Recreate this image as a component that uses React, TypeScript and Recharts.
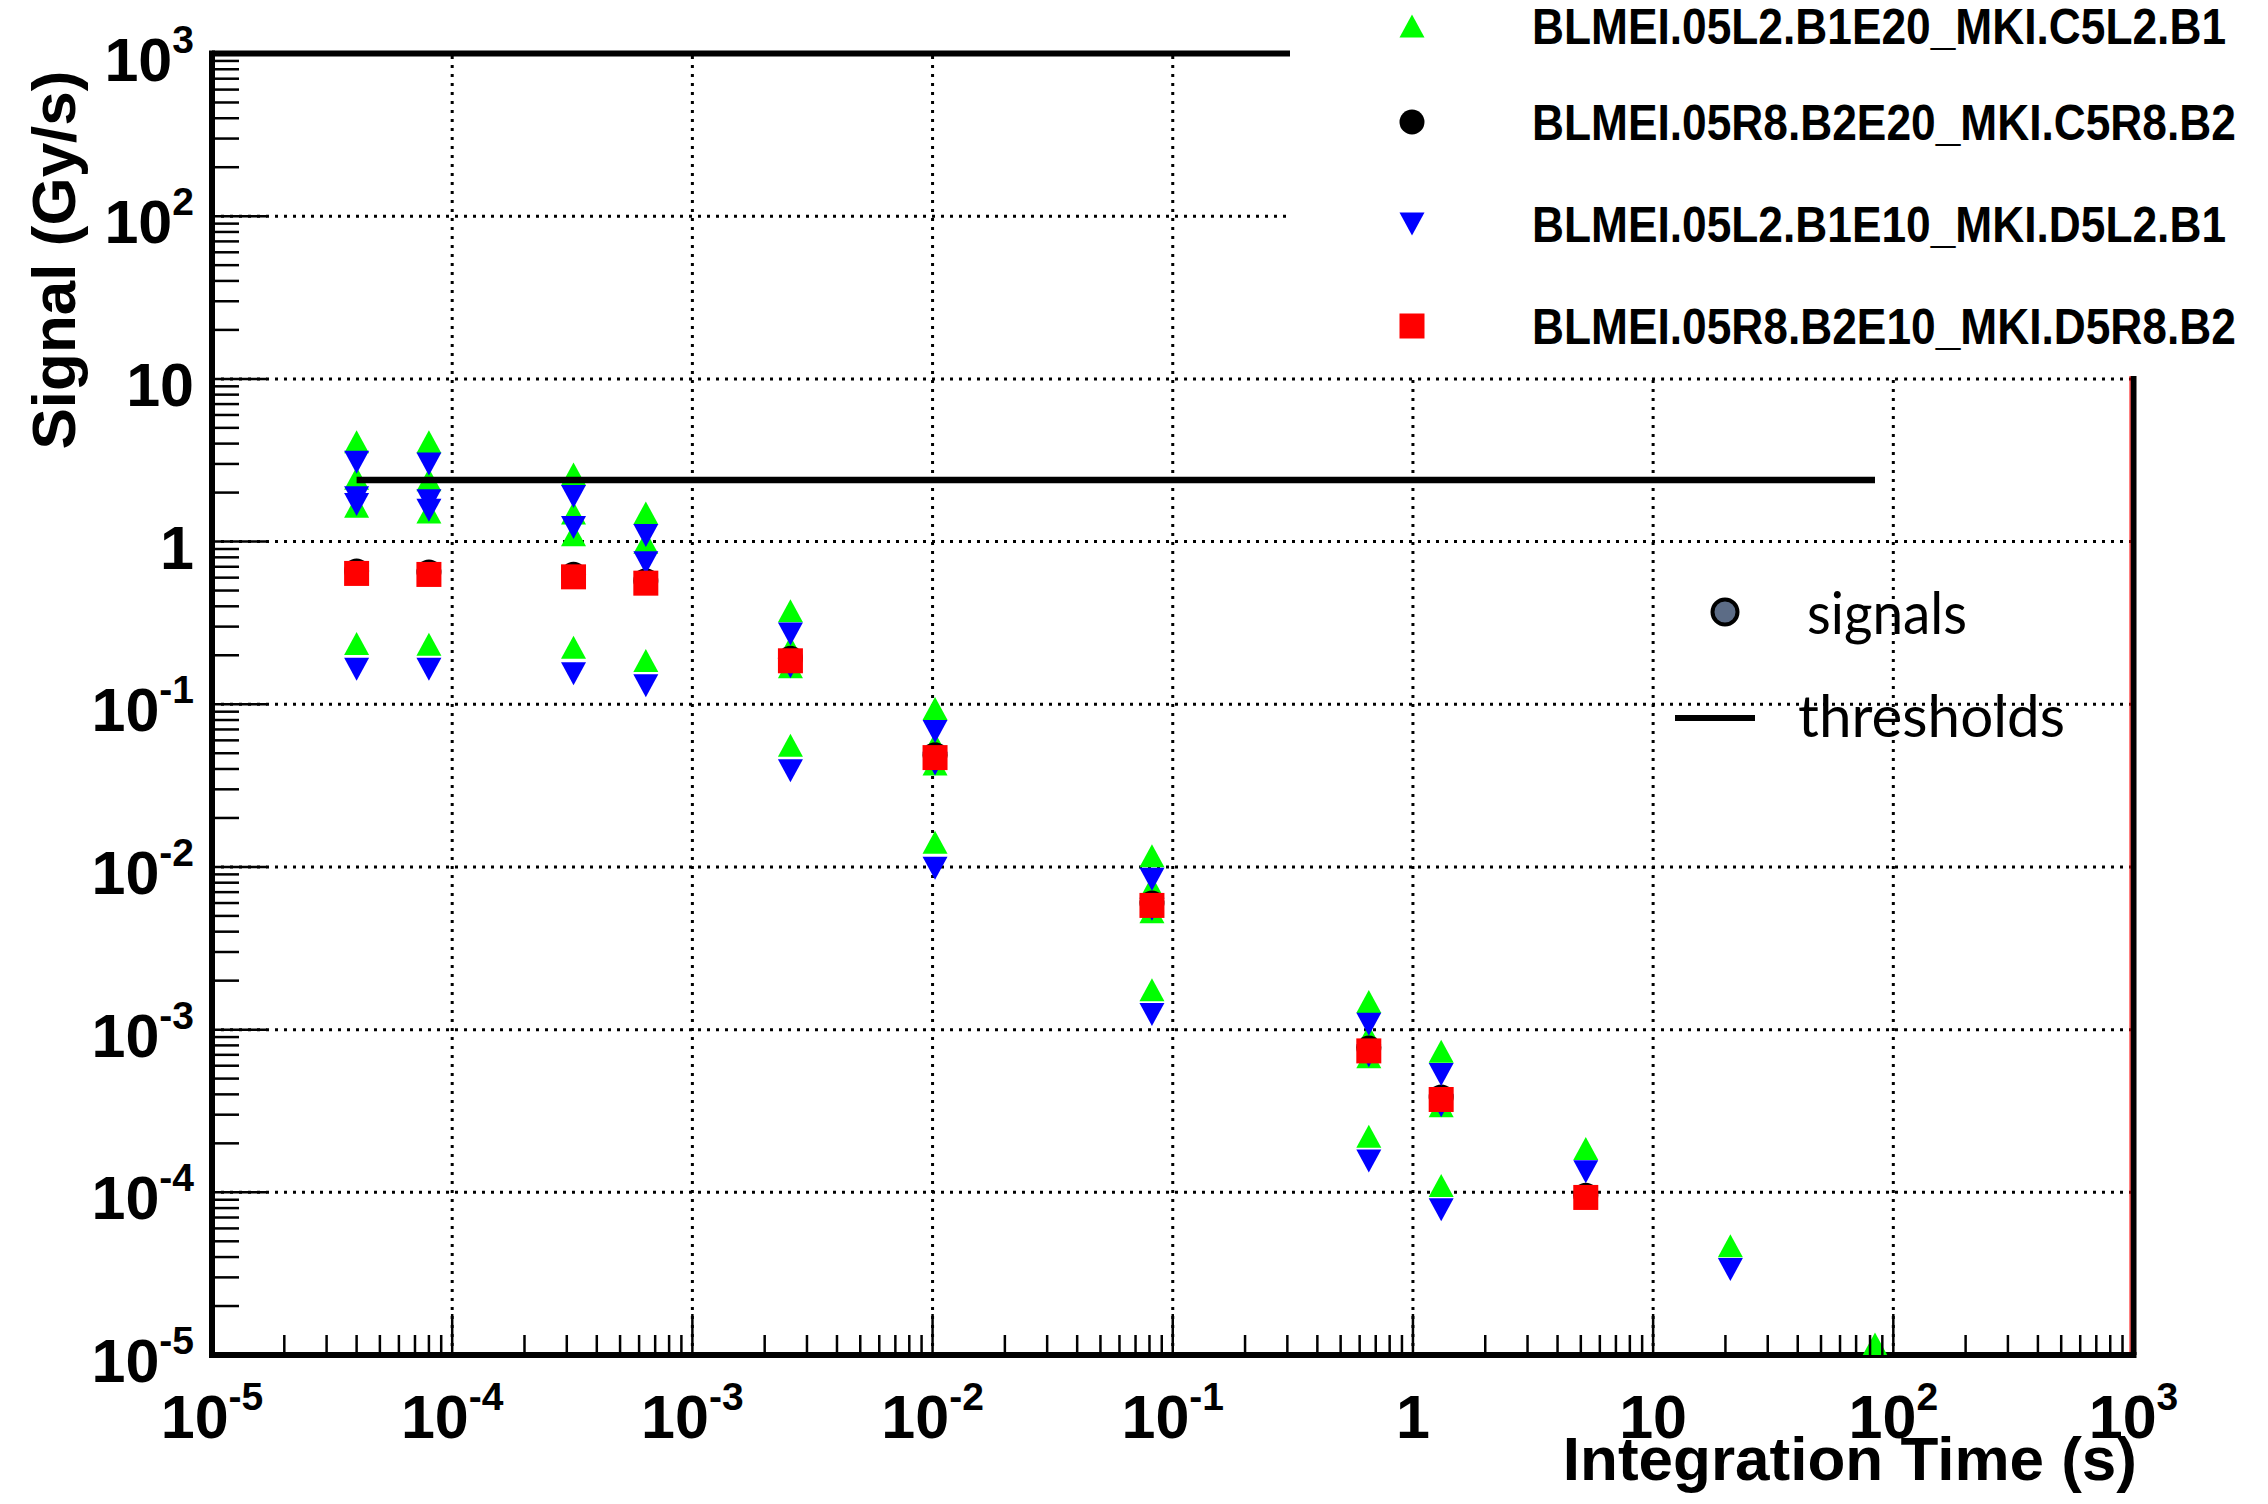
import { ReferenceLine, Scatter, ScatterChart, XAxis, YAxis } from "recharts";

// integration times of the BLM running sums (s)
const TIMES = [4e-5, 8e-5, 3.2e-4, 6.4e-4, 2.56e-3, 1.024e-2, 8.192e-2, 0.655, 1.311, 5.243, 20.97, 83.89];

// signals (Gy/s), one list per integration time
const GREEN_SIGNALS = [
  [4.1, 2.45, 1.65, 0.236],
  [4.1, 2.4, 1.52, 0.234],
  [2.6, 1.5, 1.1, 0.224],
  [1.5, 0.99, 0.186],
  [0.375, 0.223, 0.17, 0.056],
  [0.094, 0.057, 0.043, 0.0142],
  [0.0117, 0.0075, 0.0053, 0.00176],
  [0.00149, 0.00091, 0.00068, 0.000221],
  [0.000736, 0.00034, 0.00011],
  [0.000186],
  [4.7e-5],
  [1.17e-5],
];
const BLACK_SIGNALS = [
  [0.66], [0.65], [0.63], [0.575], [0.192], [0.049], [0.006], [0.00077], [0.000385], [9.6e-5], [], [],
];
const BLUE_SIGNALS = [
  [3.07, 1.86, 1.69, 0.164],
  [3.0, 1.78, 1.56, 0.164],
  [1.89, 1.22, 0.154],
  [1.09, 0.74, 0.13],
  [0.27, 0.17, 0.039],
  [0.068, 0.043, 0.0098],
  [0.0084, 0.0055, 0.00124],
  [0.00108, 0.00069, 0.000156],
  [0.00053, 0.00034, 7.8e-5],
  [0.000134],
  [3.35e-5],
  [],
];
const RED_SIGNALS = [
  [0.637], [0.628], [0.607], [0.555], [0.185], [0.047], [0.0058], [0.00074], [0.000372], [9.3e-5], [], [],
];

const THRESHOLD = 2.39;
const THRESHOLD_FROM = 4e-5;
const THRESHOLD_TO = 83.89;

const LEGEND_LABELS = [
  "BLMEI.05L2.B1E20_MKI.C5L2.B1",
  "BLMEI.05R8.B2E20_MKI.C5R8.B2",
  "BLMEI.05L2.B1E10_MKI.D5L2.B1",
  "BLMEI.05R8.B2E10_MKI.D5R8.B2",
];

const EXPONENTS = [-5, -4, -3, -2, -1, 0, 1, 2, 3];
const MAJOR_TICKS = EXPONENTS.map((e) => Number(`1e${e}`));
const MINOR_TICKS = EXPONENTS.slice(0, -1).flatMap((e) =>
  [2, 3, 4, 5, 6, 7, 8, 9].map((m) => Number(`${m}e${e}`))
);
const ALL_TICKS = [...MAJOR_TICKS, ...MINOR_TICKS].sort((a, b) => a - b);
const GRID_VALUES = MAJOR_TICKS.slice(1, -1);

const FONT = '"Liberation Sans", Arial, Helvetica, sans-serif';

function toPoints(lists: number[][]) {
  return lists.flatMap((vals, i) => vals.map((y) => ({ x: TIMES[i], y })));
}

const greenPts = toPoints(GREEN_SIGNALS);
const blackPts = toPoints(BLACK_SIGNALS);
const bluePts = toPoints(BLUE_SIGNALS);
const redPts = toPoints(RED_SIGNALS);
const thresholdPts = [
  { x: THRESHOLD_FROM, y: THRESHOLD },
  { x: THRESHOLD_TO, y: THRESHOLD },
];

function expOf(v: number) {
  return Math.round(Math.log10(v));
}

function isMajor(v: number) {
  return Math.abs(v / Number(`1e${expOf(v)}`) - 1) < 1e-6;
}

function DecadeLabel({ x, y, exp, anchor }: { x: number; y: number; exp: number; anchor: "middle" | "end" }) {
  return (
    <text x={x} y={y} textAnchor={anchor} fontFamily={FONT} fontWeight="bold" fontSize={61} fill="#000">
      {exp === 0 ? "1" : "10"}
      {exp !== 0 && exp !== 1 && (
        <tspan dy={-28} fontSize={39}>
          {String(exp)}
        </tspan>
      )}
    </text>
  );
}

function XTick(props: any) {
  const { x, y, payload } = props;
  const v = payload.value;
  const major = isMajor(v);
  return (
    <g>
      <line x1={x} x2={x} y1={y} y2={y - (major ? 41 : 20)} stroke="#000" strokeWidth={2.5} />
      {major && <DecadeLabel x={x} y={y + 83} exp={expOf(v)} anchor="middle" />}
    </g>
  );
}

function YTick(props: any) {
  const { x, y, payload } = props;
  const v = payload.value;
  const major = isMajor(v);
  return (
    <g>
      <line x1={x} x2={x + (major ? 55 : 27)} y1={y} y2={y} stroke="#000" strokeWidth={2.5} />
      {major && <DecadeLabel x={x - 18} y={y + 27} exp={expOf(v)} anchor="end" />}
    </g>
  );
}

function UpTri({ cx, cy }: any) {
  return <polygon points={`${cx},${cy - 11.5} ${cx - 12.5},${cy + 11.5} ${cx + 12.5},${cy + 11.5}`} fill="#00ff00" />;
}
function DownTri({ cx, cy }: any) {
  return <polygon points={`${cx - 12.5},${cy - 11.5} ${cx + 12.5},${cy - 11.5} ${cx},${cy + 11.5}`} fill="#0000ff" />;
}
function Dot({ cx, cy }: any) {
  return <circle cx={cx} cy={cy} r={12.5} fill="#000" />;
}
function Square({ cx, cy }: any) {
  return <rect x={cx - 12.5} y={cy - 12.5} width={25} height={25} fill="#ff0000" />;
}
function NoShape() {
  return <g />;
}

const LEGEND_MARKERS = [UpTri, Dot, DownTri, Square];
const LEGEND_ROWS = [26, 122, 224, 326];

export default function App() {
  return (
    <div style={{ position: "relative", width: 2268, height: 1504, margin: -8, overflow: "hidden", background: "#fff" }}>
      <ScatterChart width={2268} height={1504} margin={{ top: 53.5, right: 134.5, left: 202, bottom: 139 }}>
        {GRID_VALUES.map((v) => (
          <ReferenceLine key={`gx${v}`} x={v} stroke="#000" strokeWidth={3} strokeDasharray="3 6" />
        ))}
        {GRID_VALUES.map((v) => (
          <ReferenceLine key={`gy${v}`} y={v} stroke="#000" strokeWidth={3} strokeDasharray="3 6" />
        ))}
        <XAxis
          type="number"
          dataKey="x"
          scale="log"
          domain={[1e-5, 1e3]}
          allowDataOverflow
          ticks={ALL_TICKS}
          interval={0}
          height={10}
          tickSize={0}
          tickMargin={0}
          tickLine={false}
          axisLine={{ stroke: "#000", strokeWidth: 6, strokeLinecap: "square" }}
          tick={XTick}
        />
        <YAxis
          type="number"
          dataKey="y"
          scale="log"
          domain={[1e-5, 1e3]}
          allowDataOverflow
          ticks={ALL_TICKS}
          interval={0}
          width={10}
          tickSize={0}
          tickMargin={0}
          tickLine={false}
          axisLine={{ stroke: "#000", strokeWidth: 6, strokeLinecap: "square" }}
          tick={YTick}
        />
        <ReferenceLine y={1e3} stroke="#000" strokeWidth={6} ifOverflow="visible" />
        <ReferenceLine x={1e3} stroke="#000" strokeWidth={6} ifOverflow="visible" />
        <Scatter data={greenPts} shape={UpTri} isAnimationActive={false} />
        <Scatter data={blackPts} shape={Dot} isAnimationActive={false} />
        <Scatter data={bluePts} shape={DownTri} isAnimationActive={false} />
        <Scatter data={redPts} shape={Square} isAnimationActive={false} />
        <Scatter
          data={thresholdPts}
          shape={NoShape}
          line={{ stroke: "#000", strokeWidth: 6.5 }}
          isAnimationActive={false}
        />
      </ScatterChart>
      <svg width={2268} height={1504} style={{ position: "absolute", left: 0, top: 0, pointerEvents: "none" }}>
        <rect x={1290} y={0} width={978} height={376} fill="#fff" />
        <line x1={2130} x2={2130} y1={376} y2={1352} stroke="#ff0000" strokeWidth={1} />
        {LEGEND_LABELS.map((label, i) => {
          const Marker = LEGEND_MARKERS[i];
          return (
            <g key={label}>
              <Marker cx={1412} cy={LEGEND_ROWS[i]} />
              {/* condensed bold face like the original */}
              <text
                transform={`translate(1532, ${LEGEND_ROWS[i] + 18}) scale(0.886, 1)`}
                fontFamily={FONT}
                fontWeight="bold"
                fontSize={50}
                fill="#000"
              >
                {label}
              </text>
            </g>
          );
        })}
        <circle cx={1725} cy={612} r={12.5} fill="#5c6c86" stroke="#000" strokeWidth={4} />
        <text x={1807} y={634} fontFamily="Lato, 'Open Sans', sans-serif" fontSize={58} fill="#000" textLength={160} lengthAdjust="spacingAndGlyphs">
          signals
        </text>
        <line x1={1675} x2={1755} y1={718} y2={718} stroke="#000" strokeWidth={6} />
        <text x={1798} y={737} fontFamily="Lato, 'Open Sans', sans-serif" fontSize={58} fill="#000" textLength={267} lengthAdjust="spacingAndGlyphs">
          thresholds
        </text>
        <text
          transform="translate(75, 260) rotate(-90)"
          textAnchor="middle"
          fontFamily={FONT}
          fontWeight="bold"
          fontSize={62}
          fill="#000"
        >
          Signal (Gy/s)
        </text>
        <text x={2137} y={1480} textAnchor="end" fontFamily={FONT} fontWeight="bold" fontSize={62} fill="#000">
          Integration Time (s)
        </text>
      </svg>
    </div>
  );
}
